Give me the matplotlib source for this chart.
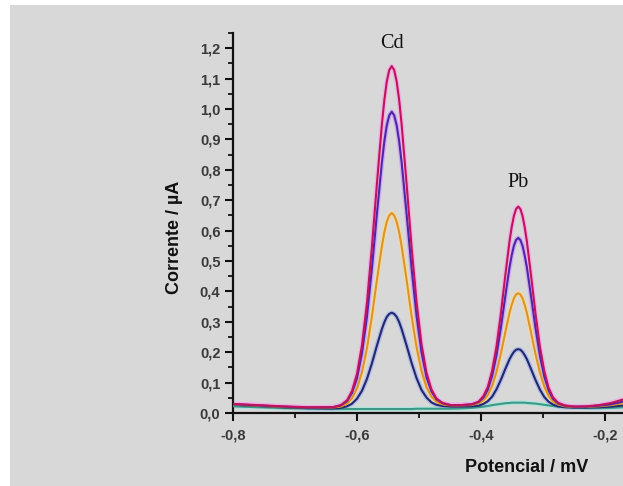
import numpy as np
import matplotlib
matplotlib.use("Agg")
import matplotlib.pyplot as plt
from matplotlib.patches import Rectangle
from matplotlib.ticker import MultipleLocator, FuncFormatter

# ------------------------------------------------------------------
# Data (potential in V, current in uA)
# ------------------------------------------------------------------
potential = [
    -0.800, -0.760, -0.720, -0.680, -0.639, -0.626, -0.616, -0.608, -0.600,
    -0.592, -0.584, -0.576, -0.568, -0.560, -0.556, -0.552, -0.548, -0.544,
    -0.540, -0.536, -0.532, -0.528,
    -0.520, -0.512, -0.504, -0.496, -0.488, -0.480, -0.472, -0.462, -0.449,
    -0.432, -0.415, -0.404, -0.396, -0.389, -0.382, -0.375, -0.368, -0.361,
    -0.354, -0.3505, -0.347, -0.3435, -0.340, -0.3365, -0.333, -0.3295, -0.326,
    -0.319, -0.312, -0.305, -0.298,
    -0.291, -0.284, -0.276, -0.265, -0.250, -0.230, -0.210, -0.190, -0.170,
]

curve_magenta = [
    0.030, 0.026, 0.022, 0.019, 0.019, 0.026, 0.042, 0.073, 0.129,
    0.223, 0.362, 0.545, 0.751, 0.946, 1.028, 1.090, 1.128, 1.141,
    1.128, 1.090, 1.030, 0.948,
    0.753, 0.547, 0.366, 0.227, 0.133, 0.078, 0.048, 0.033, 0.026,
    0.026, 0.029, 0.037, 0.056, 0.086, 0.140, 0.220, 0.327, 0.449,
    0.565, 0.612, 0.648, 0.671, 0.679, 0.671, 0.648, 0.611, 0.564,
    0.447, 0.325, 0.218, 0.138,
    0.083, 0.052, 0.034, 0.025, 0.021, 0.022, 0.026, 0.033, 0.045,
]

curve_purple = [
    0.029, 0.025, 0.021, 0.018, 0.019, 0.025, 0.039, 0.066, 0.114,
    0.196, 0.316, 0.475, 0.653, 0.822, 0.893, 0.946, 0.979, 0.991,
    0.979, 0.946, 0.894, 0.824,
    0.655, 0.477, 0.320, 0.200, 0.118, 0.071, 0.045, 0.032, 0.026,
    0.026, 0.028, 0.036, 0.051, 0.077, 0.122, 0.190, 0.280, 0.382,
    0.480, 0.519, 0.550, 0.569, 0.576, 0.569, 0.550, 0.518, 0.479,
    0.380, 0.278, 0.188, 0.120,
    0.074, 0.047, 0.032, 0.024, 0.021, 0.021, 0.024, 0.029, 0.038,
]

curve_orange = [
    0.028, 0.024, 0.020, 0.018, 0.018, 0.021, 0.031, 0.049, 0.081,
    0.134, 0.213, 0.318, 0.436, 0.547, 0.594, 0.629, 0.650, 0.658,
    0.650, 0.629, 0.595, 0.549,
    0.438, 0.320, 0.217, 0.138, 0.085, 0.054, 0.037, 0.028, 0.025,
    0.025, 0.026, 0.032, 0.042, 0.059, 0.089, 0.135, 0.195, 0.264,
    0.330, 0.356, 0.377, 0.390, 0.394, 0.390, 0.377, 0.355, 0.329,
    0.262, 0.193, 0.133, 0.087,
    0.056, 0.038, 0.028, 0.022, 0.020, 0.020, 0.022, 0.026, 0.032,
]

curve_navy = [
    0.027, 0.023, 0.019, 0.016, 0.015, 0.017, 0.022, 0.031, 0.047,
    0.073, 0.112, 0.163, 0.221, 0.275, 0.298, 0.316, 0.326, 0.330,
    0.326, 0.316, 0.299, 0.276,
    0.222, 0.165, 0.115, 0.076, 0.051, 0.035, 0.027, 0.023, 0.021,
    0.021, 0.022, 0.024, 0.030, 0.039, 0.054, 0.078, 0.109, 0.144,
    0.177, 0.190, 0.201, 0.208, 0.210, 0.208, 0.201, 0.190, 0.177,
    0.143, 0.108, 0.077, 0.053,
    0.037, 0.028, 0.022, 0.019, 0.018, 0.018, 0.019, 0.021, 0.025,
]

curve_teal = [
    0.022, 0.019, 0.016, 0.014, 0.013, 0.013, 0.013, 0.013, 0.013,
    0.013, 0.013, 0.013, 0.013, 0.013, 0.013, 0.013, 0.013, 0.013,
    0.013, 0.013, 0.013, 0.013,
    0.013, 0.013, 0.014, 0.014, 0.014, 0.014, 0.014, 0.014, 0.014,
    0.015, 0.017, 0.019, 0.021, 0.023, 0.026, 0.028, 0.030, 0.032,
    0.033, 0.034, 0.034, 0.034, 0.034, 0.034, 0.034, 0.034, 0.033,
    0.032, 0.031, 0.029, 0.027,
    0.025, 0.023, 0.021, 0.019, 0.017, 0.016, 0.016, 0.017, 0.019,
]

peak_labels = ["Cd", "Pb"]
peak_label_x = [-0.544, -0.340]
peak_label_y = [1.215, 0.757]

y_ticks = [0.0, 0.1, 0.2, 0.3, 0.4, 0.5, 0.6, 0.7, 0.8, 0.9, 1.0, 1.1, 1.2]
x_ticks = [-0.8, -0.6, -0.4, -0.2]

BG = "#d8d8d8"

# (curve, core colour, halo colour)
series = [
    (curve_teal, "#3a9a88", "#b4e2d8"),
    (curve_navy, "#24266f", "#b0bde6"),
    (curve_orange, "#dc9426", "#f4d9a6"),
    (curve_purple, "#4f26a8", "#cfaaf0"),
    (curve_magenta, "#c0145a", "#f0b0e6"),
]

fig = plt.figure(figsize=(6.23, 4.86), dpi=100, facecolor="white")
bg = Rectangle((10 / 623, 0), 1, 481 / 486, transform=fig.transFigure,
               facecolor=BG, edgecolor="none", zorder=-10)
fig.patches.append(bg)

ax = fig.add_axes([233 / 623, 73 / 486, 390 / 623, 380 / 486])
ax.set_facecolor(BG)
ax.set_zorder(1)

for vals, core, halo in series:
    ax.plot(potential, vals, color=halo, lw=3.4, solid_joinstyle="round", zorder=2)
for vals, core, halo in series:
    ax.plot(potential, vals, color=core, lw=1.5, solid_joinstyle="round", zorder=3)

for lab, lx, ly in zip(peak_labels, peak_label_x, peak_label_y):
    ax.text(lx, ly, lab, ha="center", va="center", fontsize=14.5,
            family="Liberation Serif", color="#111111")

ax.set_xlim(-0.8, -0.171)
ax.set_ylim(0, 1.25)

ax.spines["top"].set_visible(False)
ax.spines["right"].set_visible(False)
for s in ("left", "bottom"):
    ax.spines[s].set_linewidth(1.6)
    ax.spines[s].set_color("#111111")

comma = FuncFormatter(lambda v, p: f"{v:.1f}".replace(".", ","))
ax.set_yticks(y_ticks)
ax.set_xticks(x_ticks)
ax.yaxis.set_major_formatter(comma)
ax.xaxis.set_major_formatter(comma)
ax.yaxis.set_minor_locator(MultipleLocator(0.05))
ax.xaxis.set_minor_locator(MultipleLocator(0.1))

ax.tick_params(which="major", direction="out", length=6, width=1.5, color="#111111")
ax.tick_params(which="minor", direction="out", length=3.5, width=1.3, color="#111111")
ax.tick_params(axis="y", which="major", pad=3, labelsize=10.5, labelcolor="#3a3a3a")
ax.tick_params(axis="x", which="major", pad=5, labelsize=10.5, labelcolor="#3a3a3a")
for lbl in ax.get_xticklabels() + ax.get_yticklabels():
    lbl.set_fontweight("bold")
    lbl.set_family("Liberation Sans")

ax.set_xlabel("Potencial / mV", fontsize=13, fontweight="bold",
              family="Liberation Sans", color="#111111")
ax.set_ylabel("Corrente / µA", fontsize=13, fontweight="bold",
              family="Liberation Sans", color="#111111")
ax.xaxis.set_label_coords(0.754, -0.121)
ax.yaxis.set_label_coords(-0.127, 0.463)

fig.savefig("out.png", dpi=100, facecolor=fig.get_facecolor())
